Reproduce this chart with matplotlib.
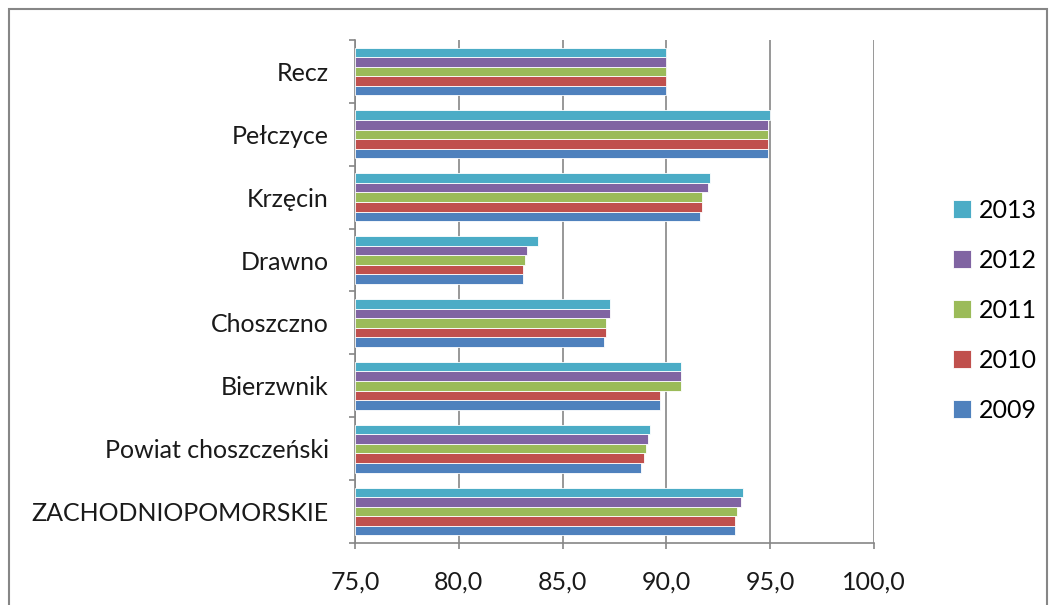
import numpy as np
import matplotlib.pyplot as plt
from matplotlib.patches import Rectangle

plt.rcParams['font.family'] = ['Lato', 'DejaVu Sans']

# dane
kategorie = ['ZACHODNIOPOMORSKIE', 'Powiat choszczeński', 'Bierzwnik', 'Choszczno',
             'Drawno', 'Krzęcin', 'Pełczyce', 'Recz']
lata = ['2009', '2010', '2011', '2012', '2013']
v2009 = [93.3, 88.8, 89.7, 87.0, 83.1, 91.6, 94.9, 90.0]
v2010 = [93.3, 88.9, 89.7, 87.1, 83.1, 91.7, 94.9, 90.0]
v2011 = [93.4, 89.0, 90.7, 87.1, 83.2, 91.7, 94.9, 90.0]
v2012 = [93.6, 89.1, 90.7, 87.3, 83.3, 92.0, 94.9, 90.0]
v2013 = [93.7, 89.2, 90.7, 87.3, 83.8, 92.1, 95.0, 90.0]
kolory = ['#4F81BD', '#C0504D', '#9BBB59', '#8064A2', '#4BACC6']

serie = [v2009, v2010, v2011, v2012, v2013]

fig = plt.figure(figsize=(10.54, 6.05), dpi=100)
ax = fig.add_axes([0.3368, 0.1025, 0.4924, 0.8314])

y = np.arange(len(kategorie))
h = 0.152
x0 = 75
for i, (vals, kol, rok) in enumerate(zip(serie, kolory, lata)):
    ax.barh(y + (i - 2) * h, np.array(vals) - x0, left=x0, height=h, color=kol,
            edgecolor='white', linewidth=0.6, label=rok, zorder=3)

ax.set_xlim(75, 100)
ax.set_ylim(-0.5, len(kategorie) - 0.5)
ax.set_xticks(np.arange(75, 101, 5))
ax.set_xticklabels([f'{t:.1f}'.replace('.', ',') for t in np.arange(75, 101, 5)])
ax.set_yticks(y)
ax.set_yticklabels(kategorie)
ax.set_yticks(np.arange(-0.5, len(kategorie), 1), minor=True)
ax.tick_params(axis='y', which='major', length=0, pad=19, labelsize=18, colors='#1a1a1a')
ax.tick_params(axis='y', which='minor', length=4, direction='out', color='#868686', width=1.2)
ax.tick_params(axis='x', length=4, direction='out', color='#868686', width=1.2,
               labelsize=18, colors='#1a1a1a', pad=16)

ax.grid(axis='x', color='#868686', linewidth=1.2, zorder=0)
for s in ['top', 'right']:
    ax.spines[s].set_visible(False)
for s in ['left', 'bottom']:
    ax.spines[s].set_color('#868686')
    ax.spines[s].set_linewidth(1.2)

handles, labels = ax.get_legend_handles_labels()
leg = fig.legend(handles[::-1], labels[::-1], loc='center left',
                 bbox_to_anchor=(0.892, 0.487), frameon=False, fontsize=18,
                 handlelength=0.75, handleheight=0.75, handletextpad=0.3,
                 labelspacing=1.08, borderpad=0)

ramka = Rectangle((9 / 1054, -0.05), 1 - 16 / 1054, 1 - 9 / 605 + 0.05,
                  transform=fig.transFigure, fill=False,
                  edgecolor='#868686', linewidth=1.5)
fig.patches.append(ramka)

fig.savefig('out.png', dpi=100)
